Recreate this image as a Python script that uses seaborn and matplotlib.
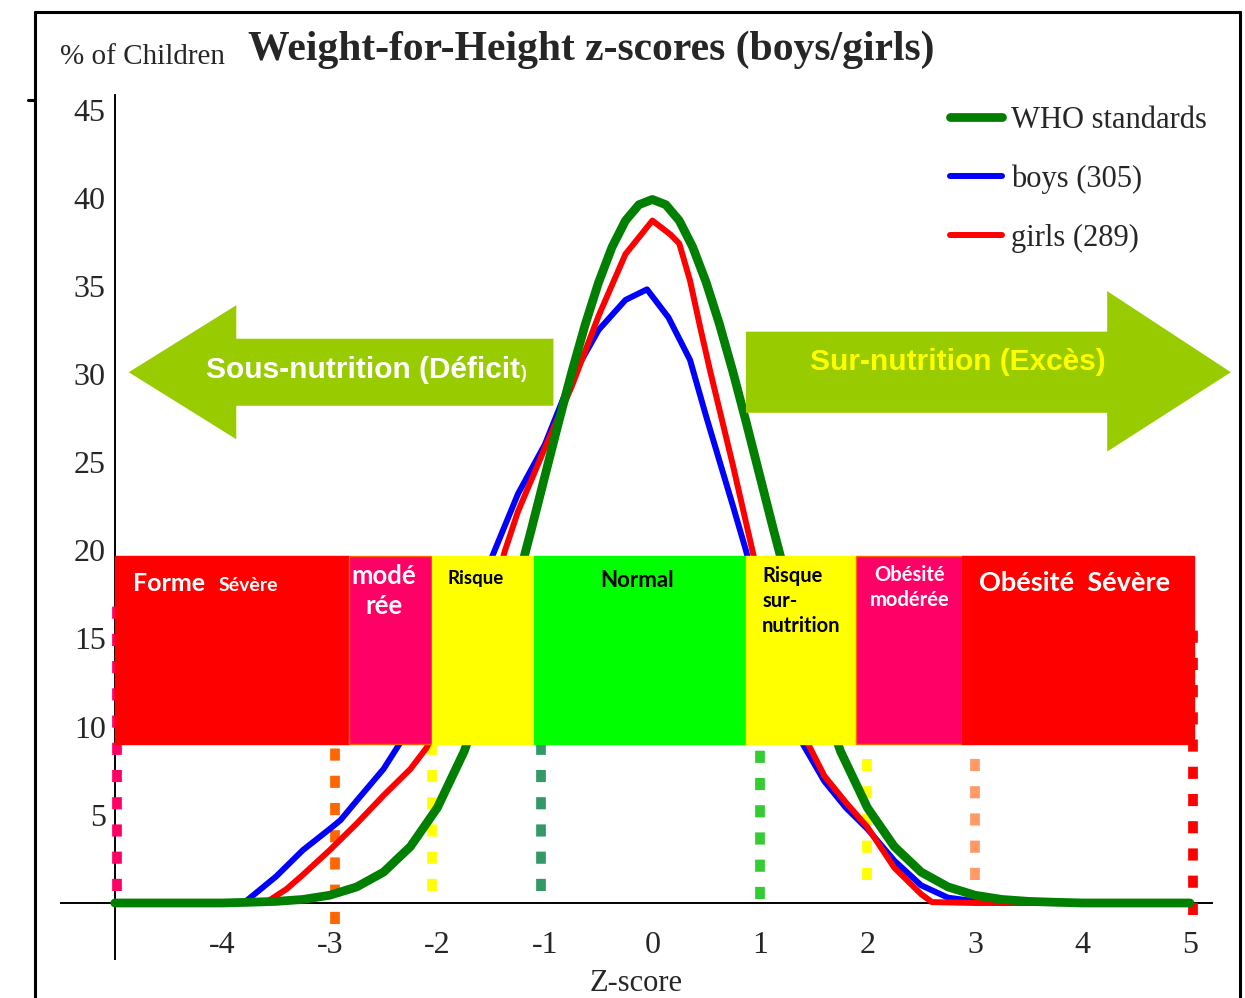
import numpy as np
import pandas as pd
import matplotlib
matplotlib.use("Agg")
import matplotlib.pyplot as plt
from matplotlib.patches import Polygon, Rectangle
from matplotlib.lines import Line2D
import seaborn as sns

# values (percent of children per z-score)
who_z = [-5.0, -4.0, -3.75, -3.5, -3.25, -3.0, -2.75, -2.5, -2.25, -2.0, -1.75, -1.5, -1.375,
         -1.25, -1.125, -1.0, -0.875, -0.75, -0.625, -0.5, -0.375, -0.25, -0.125, 0.0, 0.125,
         0.25, 0.375, 0.5, 0.625, 0.75, 0.875, 1.0, 1.125, 1.25, 1.375, 1.5, 1.75, 2.0, 2.25,
         2.5, 2.75, 3.0, 3.25, 3.5, 3.75, 4.0, 5.0]
who_pct = [0.0, 0.0, 0.04, 0.09, 0.2, 0.44, 0.91, 1.75, 3.2, 5.4, 8.6, 13.0, 15.5,
           18.3, 21.2, 24.2, 27.2, 30.1, 32.8, 35.2, 37.2, 38.7, 39.6, 39.9, 39.6,
           38.7, 37.2, 35.2, 32.8, 30.1, 27.2, 24.2, 21.2, 18.3, 15.5, 13.0, 8.6, 5.4, 3.2,
           1.75, 0.91, 0.44, 0.2, 0.09, 0.04, 0.0, 0.0]

boys_z = [-5.0, -3.8, -3.5, -3.25, -3.0, -2.9, -2.75, -2.5, -2.25, -2.0, -1.75, -1.5, -1.25, -1.0,
          -0.75, -0.5, -0.25, -0.05, 0.15, 0.35, 0.5, 0.75, 0.87, 1.0, 1.2, 1.4, 1.6, 1.8, 2.0,
          2.25, 2.5, 2.75, 3.0, 3.25, 5.0]
boys_pct = [0, 0, 1.5, 3.0, 4.2, 4.7, 5.8, 7.6, 10.0, 12.3, 15.3, 19.5, 23.2, 26.0,
            29.8, 32.5, 34.2, 34.8, 33.2, 30.8, 27.6, 22.5, 20.0, 16.8, 12.5, 9.0, 6.9, 5.4, 4.2,
            2.4, 1.0, 0.3, 0.1, 0, 0]

girls_z = [-5.0, -3.6, -3.4, -3.25, -3.0, -2.75, -2.5, -2.25, -2.1, -1.75, -1.5, -1.37, -1.25,
           -1.0, -0.75, -0.5, -0.25, 0.0, 0.17, 0.25, 0.35, 0.45, 0.54, 0.75, 0.93, 1.0, 1.2,
           1.4, 1.6, 1.8, 2.0, 2.25, 2.5, 2.6, 3.0, 5.0]
girls_pct = [0, 0, 0.8, 1.6, 3.0, 4.5, 6.1, 7.6, 8.8, 13.0, 17.2, 20.0, 22.2,
             25.8, 29.3, 33.3, 36.8, 38.7, 37.9, 37.4, 35.3, 32.5, 30.1, 24.8, 20.0, 18.2, 13.8,
             9.6, 7.2, 5.7, 4.3, 2.0, 0.5, 0.05, 0, 0]

series_labels = ["WHO standards", "boys (305)", "girls (289)"]
x_ticks = [-4, -3, -2, -1, 0, 1, 2, 3, 4, 5]
y_ticks = [5, 10, 15, 20, 25, 30, 35, 40, 45]

# classification bands: edges on the z axis, colours
band_edges = [-5.0, -2.82, -2.05, -1.1, 0.87, 1.89, 2.88, 5.04]
band_colors = ["#FF0000", "#FF0066", "#FFFF00", "#00FF00", "#FFFF00", "#FF0066", "#FF0000"]

# dotted cut-off lines: (z, y from, y to, colour)
cutoffs = [(-4.98, 0.7, 17.5, "#FF0066"), (-2.95, -1.2, 9.0, "#FF6600"),
           (-2.05, 0.7, 9.0, "#FFFF00"), (-1.04, 0.7, 9.0, "#339966"),
           (1.0, 0.2, 9.0, "#33CC33"), (2.0, 1.3, 9.0, "#FFFF00"),
           (3.0, 1.3, 9.0, "#FF9966"), (5.03, -0.7, 15.8, "#FF0000")]

sns.set_style("white")
plt.rcParams["font.family"] = ["Liberation Serif", "DejaVu Serif"]
plt.rcParams["axes.unicode_minus"] = False

W, H = 1245, 998
fig = plt.figure(figsize=(W / 100, H / 100), dpi=100)
ax = fig.add_axes([61 / W, 1 - 959.4 / H, 1150.5 / W, 864 / H])
ax.set_xlim(-5.5, 5.2)
ax.set_ylim(-3.2, 45.8)

# curves
l_boys = sns.lineplot(x=boys_z, y=boys_pct, color="#0000FF", lw=4.3, ax=ax, zorder=3).lines[-1]
l_girls = sns.lineplot(x=girls_z, y=girls_pct, color="#FF0000", lw=4.3, ax=ax, zorder=3).lines[-1]
l_who = sns.lineplot(x=who_z, y=who_pct, color="#007F00", lw=6.3, ax=ax, zorder=4).lines[-1]

# dotted cut-offs
for z, y0, y1, c in cutoffs:
    ax.plot([z, z], [y0, y1], color=c, lw=7, dashes=[1.25, 1.55], solid_capstyle="butt",
            dash_capstyle="butt", zorder=2)

# bands
band_lo, band_hi = 9.0, 19.7
for i, c in enumerate(band_colors):
    ec = "#FF6600" if c == "#FF0066" else c
    ax.add_patch(Rectangle((band_edges[i], band_lo), band_edges[i + 1] - band_edges[i],
                           band_hi - band_lo, facecolor=c, edgecolor=ec, lw=1, zorder=6))

bfont = ["Lato", "DejaVu Sans"]
ax.text(-4.83, 17.7, "Forme", color="white", fontsize=18, fontweight="bold", family=bfont,
        va="baseline", zorder=7)
ax.text(-4.03, 17.7, "Sévère", color="white", fontsize=14, fontweight="bold", family=bfont,
        va="baseline", zorder=7)
ax.text(-2.5, 19.25, "modé\nrée", color="white", fontsize=18.5, fontweight="bold", family=bfont,
        ha="center", va="top", linespacing=1.3, zorder=7)
ax.text(-1.64, 18.4, "Risque", color="black", fontsize=13.5, fontweight="bold", family=bfont,
        ha="center", va="center", zorder=7)
ax.text(-0.14, 18.3, "Normal", color="black", fontsize=16, fontweight="bold", family=bfont,
        ha="center", va="center", zorder=7)
ax.text(1.02, 19.1, "Risque\nsur-\nnutrition", color="black", fontsize=14.5, fontweight="bold",
        family=bfont, ha="left", va="top", linespacing=1.3, zorder=7)
ax.text(2.39, 19.15, "Obésité\nmodérée", color="white", fontsize=14.5, fontweight="bold",
        family=bfont, ha="center", va="top", linespacing=1.3, zorder=7)
ax.text(3.93, 18.15, "Obésité  Sévère", color="white", fontsize=19.5, fontweight="bold",
        family=bfont, ha="center", va="center", zorder=7)

# big arrows
green_arrow = "#99CC00"
left_arrow = [(-4.87, 30.1), (-3.87, 33.9), (-3.87, 32.0), (-0.92, 32.0), (-0.92, 28.2),
              (-3.87, 28.2), (-3.87, 26.3)]
right_arrow = [(0.87, 32.4), (4.23, 32.4), (4.23, 34.7), (5.38, 30.1), (4.23, 25.6),
               (4.23, 27.8), (0.87, 27.8)]
for pts in (left_arrow, right_arrow):
    ax.add_patch(Polygon(pts, closed=True, facecolor=green_arrow, edgecolor="none",
                         zorder=5, clip_on=False))
afont = ["Liberation Sans Narrow", "Liberation Sans", "DejaVu Sans"]
ax.text(-1.23, 30.2, "Sous-nutrition (Déficit", color="white", fontsize=21.5, fontweight="bold",
        family=afont, ha="right", va="center", zorder=7)
ax.text(-1.23, 30.0, ")", color="white", fontsize=13, fontweight="bold",
        family=afont, ha="left", va="center", zorder=7)
ax.text(2.84, 30.7, "Sur-nutrition (Excès)", color="#FFFF00", fontsize=21.5, fontweight="bold",
        family=afont, ha="center", va="center", zorder=7)

# axes styling
for s in ("top", "right"):
    ax.spines[s].set_visible(False)
ax.spines["left"].set_position(("data", -5))
ax.spines["bottom"].set_position(("data", 0))
for s in ("left", "bottom"):
    ax.spines[s].set_linewidth(1.4)
    ax.spines[s].set_color("black")
    ax.spines[s].set_zorder(1)
ax.set_xticks(x_ticks)
ax.set_yticks(y_ticks)
ax.tick_params(direction="inout", length=11, width=1.4, labelsize=23, color="black")
ax.tick_params(axis="x", pad=15)
ax.tick_params(axis="y", pad=1)
ax.set_xlabel("Z-score", fontsize=22, labelpad=6)
ax.set_ylabel("")

# legend
ax.legend([l_who, l_boys, l_girls], series_labels, loc="upper left",
          bbox_to_anchor=(950 / W, 1 - 106 / H), bbox_transform=fig.transFigure,
          frameon=False, fontsize=22, handlelength=1.7, handletextpad=0.3,
          labelspacing=0.97, borderpad=0, borderaxespad=0)

# titles
fig.text(60 / W, 1 - 57 / H, "% of Children", fontsize=21, va="center", ha="left")
fig.text(248 / W, 1 - 50 / H, "Weight-for-Height z-scores (boys/girls)", fontsize=30,
         fontweight="bold", va="center", ha="left")

# page frame
frame = dict(color="black", lw=2.2, transform=fig.transFigure)
fig.add_artist(Line2D([35 / W, 1240 / W], [1 - 12 / H, 1 - 12 / H], **frame))
fig.add_artist(Line2D([35 / W, 35 / W], [1 - 12 / H, 0], **frame))
fig.add_artist(Line2D([1240 / W, 1240 / W], [1 - 12 / H, 0], **frame))
fig.add_artist(Line2D([28 / W, 35 / W], [1 - 100 / H, 1 - 100 / H], **frame))

fig.savefig("out.png", dpi=100)
